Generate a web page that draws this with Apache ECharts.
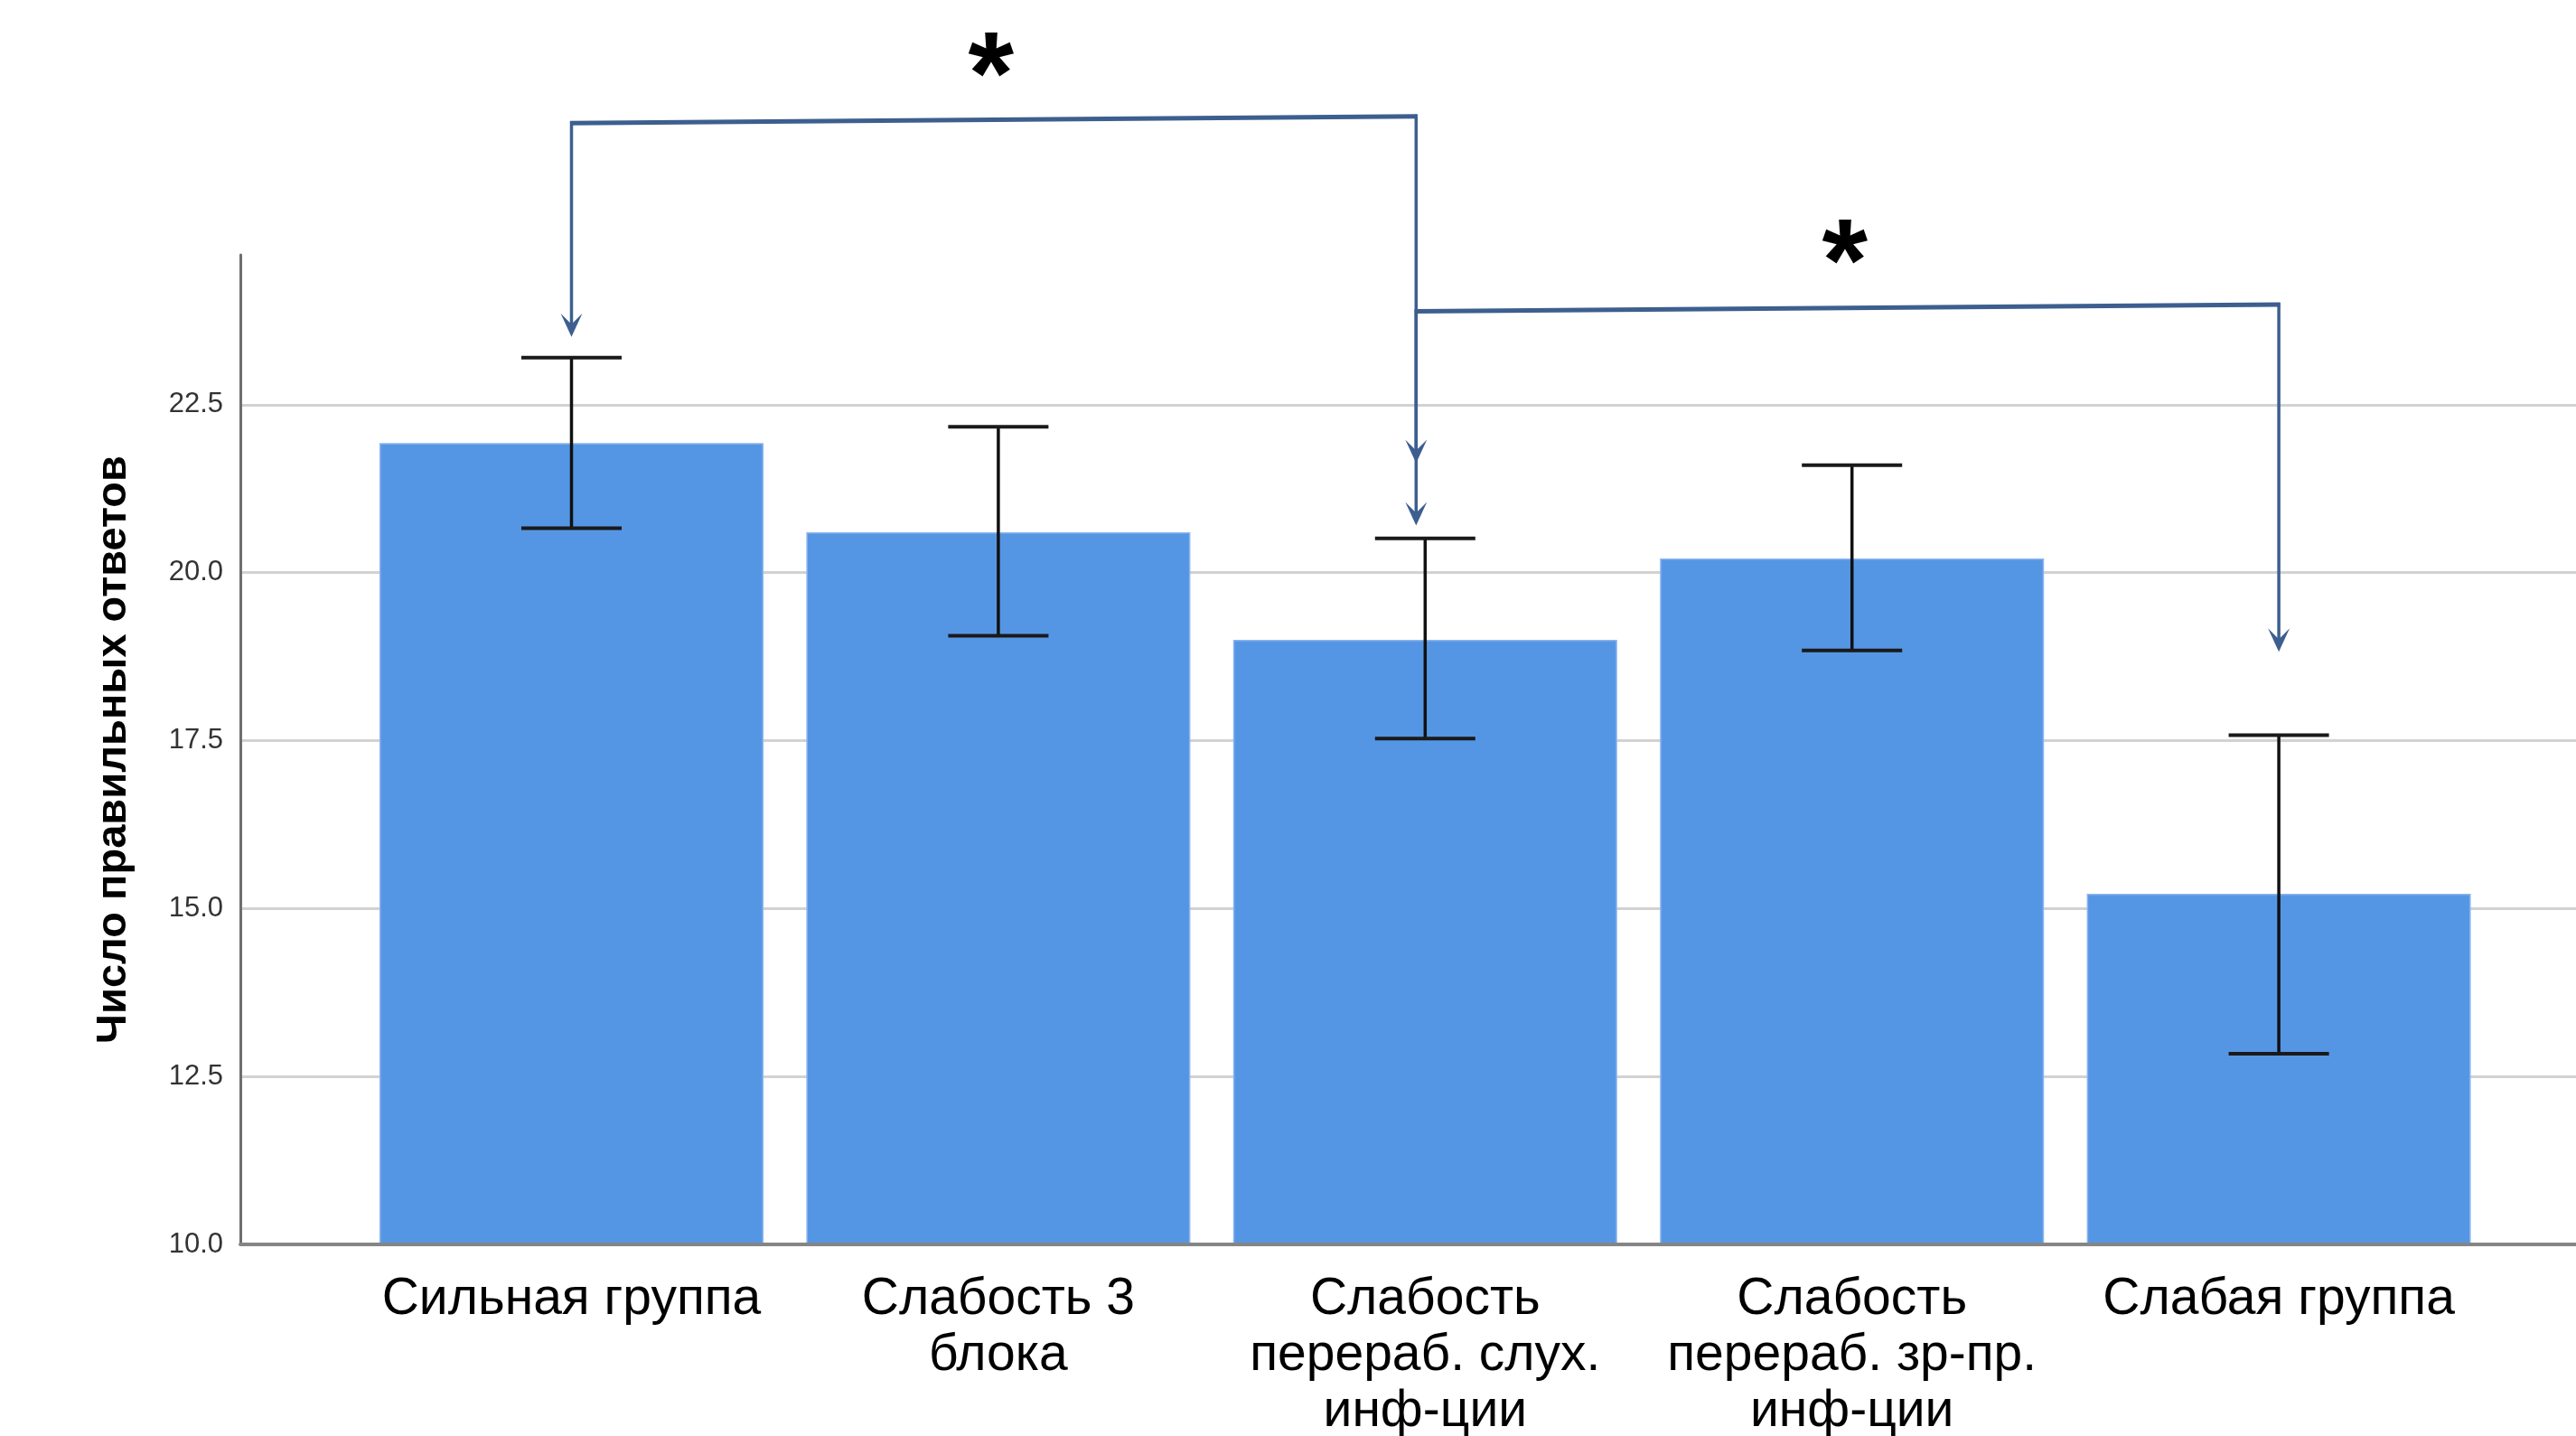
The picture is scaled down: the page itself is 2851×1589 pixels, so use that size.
<!DOCTYPE html>
<html>
<head>
<meta charset="utf-8">
<script src="https://cdn.jsdelivr.net/npm/echarts@6/dist/echarts.min.js"></script>
<style>
  html, body { margin: 0; padding: 0; background: #fff; }
  #chart { width: 2851px; height: 1589px; }
</style>
</head>
<body>
<div id="chart"></div>
<script>
// Groups of participants and their mean number of correct answers with 95% CI
const groups = [
  'Сильная группа',
  'Слабость 3\nблока',
  'Слабость\nперераб. слух.\nинф-ции',
  'Слабость\nперераб. зр-пр.\nинф-ции',
  'Слабая группа'
];
const means   = [21.93, 20.60, 19.00, 20.21, 15.22];
const ciLower = [20.66, 19.06, 17.53, 18.84, 12.84];
const ciUpper = [23.20, 22.17, 20.51, 21.60, 17.58];

// Value axis
const yMin = 10;
const yMax = 24.73;
const yStep = 2.5;

// Significant pairwise differences (category indices) and the
// value levels at which each bracket, its arrow tips and its star sit
const comparisons   = [[0, 2], [2, 4]];
const bracketLeftY  = [26.69, 23.89];
const bracketRightY = [26.79, 23.99];
const arrowLeftTip  = [23.51, 20.70];
const arrowRightTip = [21.63, 18.82];
const starLevel     = [27.66, 24.87];
const starText      = ['*', '*'];

const FONT = '"Liberation Sans", Arial, sans-serif';
const LINK = '#3d5f8f';

const chart = echarts.init(document.getElementById('chart'), null, { renderer: 'canvas' });

function arrowHead(x, y) {
  return {
    type: 'polygon',
    shape: { points: [[x, y], [x - 12, y - 26], [x, y - 14], [x + 12, y - 26]] },
    style: { fill: LINK }
  };
}

const option = {
  animation: false,
  backgroundColor: '#fff',
  textStyle: { fontFamily: FONT },
  grid: [
    { left: 266, right: 0, top: 282, bottom: 212, outerBoundsMode: 'none' },
    { left: 396.3, right: 92.7, top: 282, bottom: 212, outerBoundsMode: 'none' }
  ],
  xAxis: [
    {
      gridIndex: 0, type: 'value', min: 0, max: 1, z: 6,
      axisLine: { show: true, lineStyle: { color: '#858585', width: 4 } },
      axisTick: { show: false }, axisLabel: { show: false }, splitLine: { show: false }
    },
    {
      gridIndex: 1, type: 'category', data: groups,
      axisLine: { show: false }, axisTick: { show: false },
      axisLabel: {
        interval: 0, margin: 30, fontSize: 57, lineHeight: 62,
        color: '#000', fontFamily: FONT
      }
    }
  ],
  yAxis: [
    {
      gridIndex: 0, type: 'value', min: yMin, max: yMax, interval: yStep,
      name: 'Число правильных ответов', nameLocation: 'middle', nameGap: 116,
      nameTextStyle: { fontSize: 47, fontWeight: 'bold', color: '#000', fontFamily: FONT },
      axisLine: { show: true, lineStyle: { color: '#6e6e6e', width: 3 } },
      axisTick: { show: false },
      axisLabel: {
        margin: 19, fontSize: 31, color: '#333', fontFamily: FONT,
        showMaxLabel: false,
        formatter: v => (Math.abs(v / yStep - Math.round(v / yStep)) < 1e-6 ? v.toFixed(1) : '')
      },
      splitLine: { show: true, showMaxLine: false, lineStyle: { color: '#d2d2d2', width: 3 } }
    },
    { gridIndex: 1, type: 'value', min: yMin, max: yMax, show: false }
  ],
  series: [
    {
      type: 'bar', xAxisIndex: 1, yAxisIndex: 1,
      data: means, barWidth: 425,
      itemStyle: { color: '#5596e4', borderColor: '#8ab4ee', borderWidth: 1.5 },
      z: 2
    },
    {
      type: 'custom', xAxisIndex: 1, yAxisIndex: 1, z: 3,
      data: groups.map((g, i) => [i, ciLower[i], ciUpper[i]]),
      renderItem(params, api) {
        const x = api.value(0);
        const lo = api.coord([x, api.value(1)]);
        const hi = api.coord([x, api.value(2)]);
        const half = api.size([1, 0])[0] * 0.1175;
        const stem = { stroke: '#111', lineWidth: 3.5 };
        const cap = { stroke: '#1a1a1a', lineWidth: 4 };
        return {
          type: 'group',
          children: [
            { type: 'line', shape: { x1: hi[0], y1: hi[1], x2: lo[0], y2: lo[1] }, style: stem },
            { type: 'line', shape: { x1: hi[0] - half, y1: hi[1], x2: hi[0] + half, y2: hi[1] }, style: cap },
            { type: 'line', shape: { x1: lo[0] - half, y1: lo[1], x2: lo[0] + half, y2: lo[1] }, style: cap }
          ]
        };
      }
    },
    {
      type: 'custom', xAxisIndex: 1, yAxisIndex: 1, z: 4, clip: false,
      data: comparisons.map((c, i) => [c[0], c[1], bracketLeftY[i], bracketRightY[i],
                                       arrowLeftTip[i], arrowRightTip[i], starLevel[i]]),
      renderItem(params, api) {
        const i = params.dataIndex;
        const a = api.value(0), b = api.value(1);
        // lines that meet at the shared middle group run just left of its centre
        const shift = idx => (idx === 2 ? -10 : 0);
        const pL = api.coord([a, api.value(2)]);
        const pR = api.coord([b, api.value(3)]);
        const tL = api.coord([a, api.value(4)]);
        const tR = api.coord([b, api.value(5)]);
        const s = api.coord([(a + b) / 2, api.value(6)]);
        const xL = pL[0] + shift(a), xR = pR[0] + shift(b);
        const v = { stroke: LINK, lineWidth: 3.5 };
        return {
          type: 'group',
          children: [
            { type: 'line', shape: { x1: xL - 1.5, y1: pL[1], x2: xR + 1.5, y2: pR[1] },
              style: { stroke: LINK, lineWidth: 5 } },
            { type: 'line', shape: { x1: xL, y1: pL[1] - 2, x2: xL, y2: tL[1] - 8 }, style: v },
            { type: 'line', shape: { x1: xR, y1: pR[1] - 2, x2: xR, y2: tR[1] - 8 }, style: v },
            arrowHead(xL, tL[1]),
            arrowHead(xR, tR[1]),
            {
              // the asterisk glyph sits high in its em box, so drop it onto its level
              type: 'text', x: (xL + xR) / 2 - 3, y: s[1] + 26,
              style: {
                text: starText[i], fill: '#000', align: 'center', verticalAlign: 'middle',
                font: 'bold 130px ' + FONT
              }
            }
          ]
        };
      }
    }
  ]
};

chart.setOption(option);
</script>
</body>
</html>
